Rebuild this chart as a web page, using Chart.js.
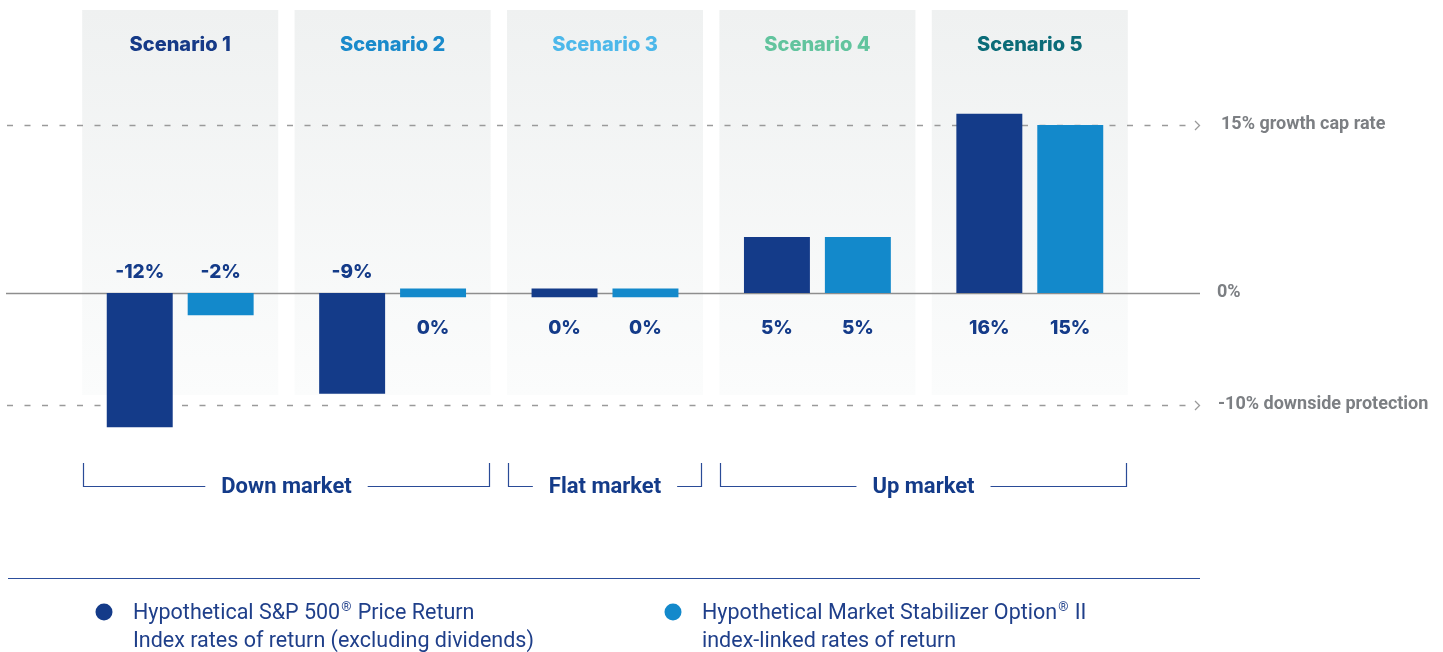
<!DOCTYPE html>
<html>
<head>
<meta charset="utf-8">
<title>Market Stabilizer Option II scenarios</title>
<script src="https://cdn.jsdelivr.net/npm/chart.js@4.4.1/dist/chart.umd.min.js"></script>
<style>
  html, body { margin: 0; padding: 0; background: #fff; }
  #wrap { width: 1443px; height: 652px; }
</style>
</head>
<body>
<div id="wrap"><canvas id="chart" width="1443" height="652"></canvas></div>
<script>
// data
const scenarios = ['Scenario 1', 'Scenario 2', 'Scenario 3', 'Scenario 4', 'Scenario 5'];
const scenarioColors = ['#163a87', '#1a8acb', '#4db8ea', '#62c49e', '#0b6c78'];
const spReturns = [-12, -9, 0, 5, 16];
const msoReturns = [-2, 0, 0, 5, 15];
const capRate = 15;
const floorRate = -10;
const refLabels = ['15% growth cap rate', '0%', '-10% downside protection'];
const marketLabels = ['Down market', 'Flat market', 'Up market'];
const marketFrom = [0, 2, 3];
const marketTo = [1, 2, 4];
const legendLines = [
  ['Hypothetical S&P 500® Price Return', 'Index rates of return (excluding dividends)'],
  ['Hypothetical Market Stabilizer Option® II', 'index-linked rates of return']
];

const NAVY = '#143b89';
const BLUE = '#1389cb';
const GRAY_TXT = '#7c7f83';
const TITLE_FONT = '800 20px Inter, "Liberation Sans", sans-serif';
const VALUE_FONT = '800 19px Inter, "Liberation Sans", sans-serif';
const COND_BOLD = 'bold 18px Roboto, "DejaVu Sans", sans-serif';

// a 0% bar is still drawn as a thin sliver round the zero line
const toBar = v => v === 0 ? [-0.4, 0.4] : [0, v];

// draws text, with ® set small and raised
function richText(ctx, str, x, y, size) {
  const parts = str.split('®');
  let cx = x;
  parts.forEach((p, i) => {
    ctx.font = size + 'px Roboto, sans-serif';
    ctx.fillText(p, cx, y);
    cx += ctx.measureText(p).width;
    if (i < parts.length - 1) {
      ctx.font = Math.round(size * 0.6) + 'px Roboto, sans-serif';
      ctx.fillText('®', cx + 1, y - 6);
      cx += ctx.measureText('®').width + 2;
    }
  });
}

const backdrop = {
  id: 'backdrop',
  beforeDatasetsDraw(chart) {
    const { ctx } = chart;
    const x = chart.scales.x, y = chart.scales.y;
    const half = x.width / scenarios.length * 0.4615;
    ctx.save();
    // grey panels
    scenarios.forEach((s, i) => {
      const cx = x.getPixelForValue(i);
      const g = ctx.createLinearGradient(0, 10, 0, 395);
      g.addColorStop(0, '#eff1f1');
      g.addColorStop(1, '#fbfcfc');
      ctx.fillStyle = g;
      ctx.fillRect(cx - half, 10, half * 2, 385);
      ctx.fillStyle = scenarioColors[i];
      ctx.font = TITLE_FONT;
      ctx.textAlign = 'center';
      ctx.textBaseline = 'middle';
      ctx.fillText(s, cx, 45);
    });
    // dashed reference lines with chevrons
    [capRate, floorRate].forEach(v => {
      const py = Math.round(y.getPixelForValue(v)) + 0.5;
      ctx.strokeStyle = '#9a9a9a';
      ctx.lineWidth = 1.6;
      ctx.setLineDash([6, 11.5]);
      ctx.beginPath();
      ctx.moveTo(7, py);
      ctx.lineTo(1186, py);
      ctx.stroke();
      ctx.setLineDash([]);
      ctx.lineWidth = 1.3;
      ctx.beginPath();
      ctx.moveTo(1195, py - 4.5);
      ctx.lineTo(1199.5, py);
      ctx.lineTo(1195, py + 4.5);
      ctx.stroke();
    });
    // zero line
    const zy = Math.round(y.getPixelForValue(0)) + 0.5;
    ctx.strokeStyle = '#8e8e8e';
    ctx.lineWidth = 1.5;
    ctx.beginPath();
    ctx.moveTo(6, zy);
    ctx.lineTo(1200, zy);
    ctx.stroke();
    ctx.restore();
  },
  afterDatasetsDraw(chart) {
    const { ctx } = chart;
    const x = chart.scales.x, y = chart.scales.y;
    const zy = y.getPixelForValue(0);
    ctx.save();
    ctx.textAlign = 'center';
    ctx.textBaseline = 'middle';
    // value labels
    ctx.font = VALUE_FONT;
    ctx.fillStyle = NAVY;
    [spReturns, msoReturns].forEach((vals, d) => {
      const meta = chart.getDatasetMeta(d);
      vals.forEach((v, i) => {
        const bx = meta.data[i].x;
        const ly = v < 0 ? zy - 21 : zy + 35;
        ctx.fillText(v + '%', bx, ly);
      });
    });
    // right-hand labels
    ctx.textAlign = 'left';
    ctx.fillStyle = GRAY_TXT;
    ctx.font = COND_BOLD;
    ctx.fillText(refLabels[0], 1221, y.getPixelForValue(capRate));
    ctx.fillText(refLabels[1], 1217, zy);
    ctx.fillText(refLabels[2], 1218, y.getPixelForValue(floorRate));
    // market brackets
    const half = x.width / scenarios.length * 0.4615;
    ctx.strokeStyle = '#2a4b97';
    ctx.fillStyle = NAVY;
    ctx.lineWidth = 1.2;
    ctx.font = 'bold 22px Roboto, sans-serif';
    ctx.textAlign = 'center';
    marketLabels.forEach((lab, k) => {
      const l = Math.round(x.getPixelForValue(marketFrom[k]) - half) + 1.5;
      const r = Math.round(x.getPixelForValue(marketTo[k]) + half) - 1.5;
      const mid = (l + r) / 2;
      const tw = ctx.measureText(lab).width;
      const by = 486.5;
      ctx.beginPath();
      ctx.moveTo(l, 463);
      ctx.lineTo(l, by);
      ctx.lineTo(mid - tw / 2 - 16, by);
      ctx.moveTo(mid + tw / 2 + 16, by);
      ctx.lineTo(r, by);
      ctx.lineTo(r, 463);
      ctx.stroke();
      ctx.fillText(lab, mid, 487);
    });
    // separator
    ctx.strokeStyle = '#2c4e9c';
    ctx.lineWidth = 1.2;
    ctx.beginPath();
    ctx.moveTo(8, 578.5);
    ctx.lineTo(1200, 578.5);
    ctx.stroke();
    // legend
    const lx = [104, 673];
    const cols = [NAVY, BLUE];
    ctx.textAlign = 'left';
    legendLines.forEach((lines, k) => {
      ctx.fillStyle = cols[k];
      ctx.beginPath();
      ctx.arc(lx[k], 612, 8.5, 0, Math.PI * 2);
      ctx.fill();
      ctx.fillStyle = '#1f3f8a';
      lines.forEach((t, j) => richText(ctx, t, lx[k] + 29, 614 + j * 28, 21.5));
    });
    ctx.restore();
  }
};

new Chart(document.getElementById('chart'), {
  type: 'bar',
  data: {
    labels: scenarios,
    datasets: [
      { label: legendLines[0].join(' '), data: spReturns.map(toBar), backgroundColor: NAVY },
      { label: legendLines[1].join(' '), data: msoReturns.map(toBar), backgroundColor: BLUE }
    ]
  },
  options: {
    responsive: false,
    animation: false,
    devicePixelRatio: 1,
    layout: { padding: { left: 74, right: 307, top: 69, bottom: 180 } },
    datasets: { bar: { categoryPercentage: 0.762, barPercentage: 0.815, borderSkipped: false } },
    scales: {
      x: { display: false },
      y: { display: false, min: -16, max: 20 }
    },
    plugins: { legend: { display: false }, tooltip: { enabled: false } }
  },
  plugins: [backdrop]
});
</script>
</body>
</html>
